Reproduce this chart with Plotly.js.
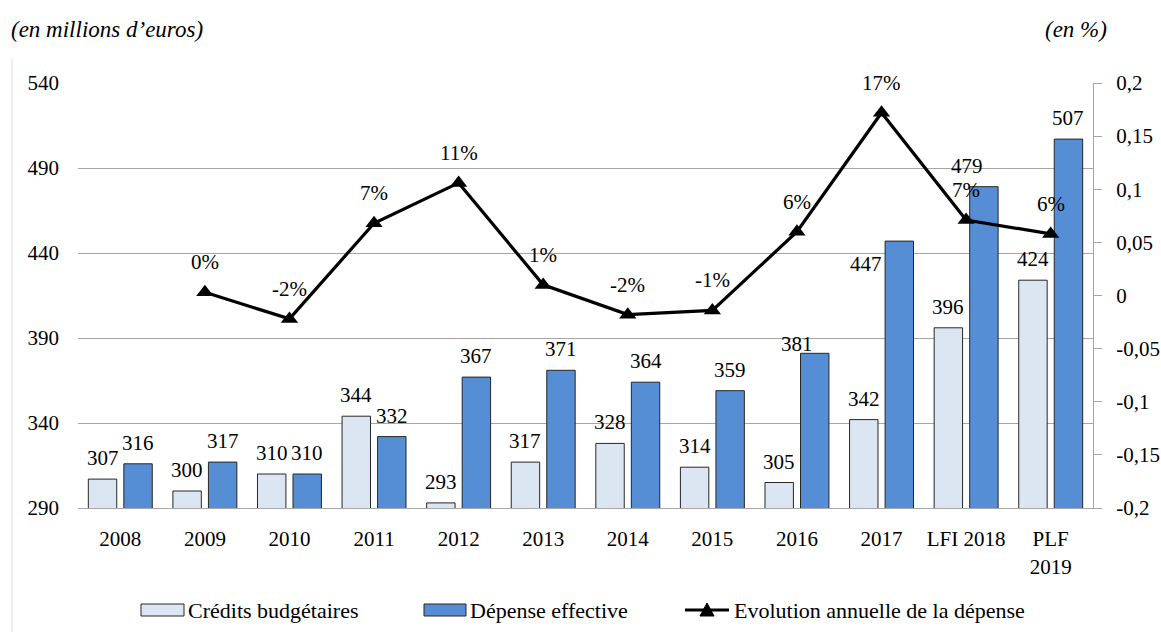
<!DOCTYPE html>
<html>
<head>
<meta charset="utf-8">
<script src="https://cdn.plot.ly/plotly-3.0.1.min.js"></script>
<style>
  html, body { margin: 0; padding: 0; background: #fff; }
  #chart { width: 1161px; height: 632px; }
</style>
</head>
<body>
<div id="chart"></div>
<script>
// ---- data ----
const categories = ['2008', '2009', '2010', '2011', '2012', '2013', '2014', '2015', '2016', '2017', 'LFI 2018', 'PLF 2019'];
const tickLabels = ['2008', '2009', '2010', '2011', '2012', '2013', '2014', '2015', '2016', '2017', 'LFI 2018', 'PLF<br>2019'];
const credits = [307, 300, 310, 344, 293, 317, 328, 314, 305, 342, 396, 424];
const depense = [316, 317, 310, 332, 367, 371, 364, 359, 381, 447, 479, 507];
const evolutionCategories = ['2009', '2010', '2011', '2012', '2013', '2014', '2015', '2016', '2017', 'LFI 2018', 'PLF 2019'];
const evolution = [0.003, -0.022, 0.068, 0.106, 0.010, -0.018, -0.014, 0.060, 0.172, 0.071, 0.058];
const leftTicks = [290, 340, 390, 440, 490, 540];
const rightTicks = [-0.2, -0.15, -0.1, -0.05, 0, 0.05, 0.1, 0.15, 0.2];
const seriesNames = ['Crédits budgétaires', 'Dépense effective', 'Evolution annuelle de la dépense'];

// ---- styling ----
const FONT = 'Liberation Serif, Times New Roman, serif';
const FS = 21;
const LIGHT = '#dce6f2';
const BLUE = '#558ed5';
const OUTLINE = '#262626';
const GRID = '#a6a6a6';
const W = 1161, H = 632;
const M = { l: 78, r: 68, t: 83, b: 124 };
const BARGAP = 0.16, BARGROUPGAP = 0.2;

const plotW = W - M.l - M.r;
const plotH = H - M.t - M.b;
const catW = plotW / categories.length;
const barOffset = catW * (1 - BARGAP) / 4;   // distance of each bar centre from the category centre

// pixel -> paper helpers for the hand-drawn legend and frame
const px = v => (v - M.l) / plotW;
const py = v => (H - M.b - v) / plotH;

// a few value labels sit beside their bar instead of on top
const labelNudge = {
  'depense|2016': { dx: -18, dy: -12 },
  'depense|2017': { dx: -33, dy: -44 },
  'depense|LFI 2018': { dx: -17, dy: 0 }
};

const fmtPct = v => Math.round(v * 100) + '%';
const fmtAxis = v => String(v).replace('.', ',');
const catIndex = name => categories.indexOf(name);

const traces = [
  {
    type: 'bar', name: seriesNames[0], x: categories, y: credits,
    marker: { color: LIGHT, line: { color: OUTLINE, width: 1 } },
    yaxis: 'y', hoverinfo: 'x+y'
  },
  {
    type: 'bar', name: seriesNames[1], x: categories, y: depense,
    marker: { color: BLUE, line: { color: OUTLINE, width: 1 } },
    yaxis: 'y', hoverinfo: 'x+y'
  },
  {
    type: 'scatter', mode: 'lines+markers', name: seriesNames[2],
    x: evolutionCategories, y: evolution, yaxis: 'y2',
    line: { color: '#000', width: 3.2 },
    marker: { symbol: 'triangle-up', size: 15, color: '#000' },
    cliponaxis: false
  }
];

const annotations = [];
function barLabel(series, values, shift) {
  values.forEach((v, i) => {
    const n = labelNudge[series + '|' + categories[i]] || { dx: 0, dy: 0 };
    annotations.push({
      x: i, y: v, xref: 'x', yref: 'y',
      text: String(v), showarrow: false,
      xshift: shift + n.dx, yshift: 7 + n.dy, yanchor: 'bottom',
      font: { family: FONT, size: FS, color: '#000' }
    });
  });
}
barLabel('credits', credits, -barOffset);
barLabel('depense', depense, barOffset);

evolution.forEach((v, i) => {
  annotations.push({
    x: catIndex(evolutionCategories[i]), y: v, xref: 'x', yref: 'y2',
    text: fmtPct(v), showarrow: false, yshift: 30, yanchor: 'middle',
    font: { family: FONT, size: FS, color: '#000' }
  });
});

// unit captions
annotations.push({
  xref: 'paper', yref: 'paper', x: px(9), y: py(29), xanchor: 'left', yanchor: 'middle',
  text: '<i>(en millions d’euros)</i>', showarrow: false,
  font: { family: FONT, size: 23, color: '#000' }
});
annotations.push({
  xref: 'paper', yref: 'paper', x: px(1109), y: py(29), xanchor: 'right', yanchor: 'middle',
  text: '<i>(en %)</i>', showarrow: false,
  font: { family: FONT, size: 23, color: '#000' }
});

// legend
const legendY = 610;
const legendItems = [
  { kind: 'box', color: LIGHT, x0: 141, x1: 184, textX: 186 },
  { kind: 'box', color: BLUE, x0: 424, x1: 466, textX: 468 },
  { kind: 'line', x0: 685, x1: 729, textX: 732 }
];
const shapes = [
  // faint chart-area edge
  { type: 'line', xref: 'paper', yref: 'paper', x0: px(12), x1: px(12), y0: py(59), y1: py(H),
    line: { color: '#d9d9d9', width: 1 } }
];
legendItems.forEach((it, k) => {
  if (it.kind === 'box') {
    shapes.push({ type: 'rect', xref: 'paper', yref: 'paper',
      x0: px(it.x0), x1: px(it.x1), y0: py(legendY + 6), y1: py(legendY - 6),
      fillcolor: it.color, line: { color: OUTLINE, width: 1 } });
  } else {
    shapes.push({ type: 'line', xref: 'paper', yref: 'paper',
      x0: px(it.x0), x1: px(it.x1), y0: py(legendY), y1: py(legendY),
      line: { color: '#000', width: 3.2 } });
    const cx = (it.x0 + it.x1) / 2;
    shapes.push({ type: 'path', xref: 'paper', yref: 'paper',
      path: `M${px(cx - 7)},${py(legendY + 6)} L${px(cx + 7)},${py(legendY + 6)} L${px(cx)},${py(legendY - 7)} Z`,
      fillcolor: '#000', line: { color: '#000', width: 1 } });
  }
  annotations.push({
    xref: 'paper', yref: 'paper', x: px(it.textX), y: py(legendY), xanchor: 'left', yanchor: 'middle',
    text: seriesNames[k], showarrow: false,
    font: { family: FONT, size: 22, color: '#000' }
  });
});

const layout = {
  width: W, height: H,
  margin: M,
  paper_bgcolor: '#fff', plot_bgcolor: '#fff',
  font: { family: FONT, size: FS, color: '#000' },
  showlegend: false,
  barmode: 'group', bargap: BARGAP, bargroupgap: BARGROUPGAP,
  xaxis: {
    type: 'category', categoryorder: 'array', categoryarray: categories,
    range: [-0.5, categories.length - 0.5], autorange: false,
    tickvals: categories, ticktext: tickLabels, tickangle: 0,
    showgrid: false, zeroline: false, showline: true, linecolor: GRID, linewidth: 1,
    ticks: '', ticklabelstandoff: 12,
    tickfont: { family: FONT, size: FS, color: '#000' }, fixedrange: true
  },
  yaxis: {
    range: [290, 540], autorange: false, tickvals: leftTicks, ticktext: leftTicks.map(String),
    showgrid: true, gridcolor: GRID, gridwidth: 1, zeroline: false, showline: false,
    ticks: '', ticklabelstandoff: 18,
    tickfont: { family: FONT, size: FS, color: '#000' }, fixedrange: true
  },
  yaxis2: {
    overlaying: 'y', side: 'right', range: [-0.2, 0.2], autorange: false,
    tickvals: rightTicks, ticktext: rightTicks.map(fmtAxis),
    showgrid: false, zeroline: false, showline: true, linecolor: GRID, linewidth: 1,
    ticks: 'outside', ticklen: 8, tickcolor: GRID, tickwidth: 1, ticklabelstandoff: 10,
    tickfont: { family: FONT, size: FS, color: '#000' }, fixedrange: true
  },
  annotations: annotations,
  shapes: shapes
};

Plotly.newPlot('chart', traces, layout, { displayModeBar: false, staticPlot: true });
</script>
</body>
</html>
